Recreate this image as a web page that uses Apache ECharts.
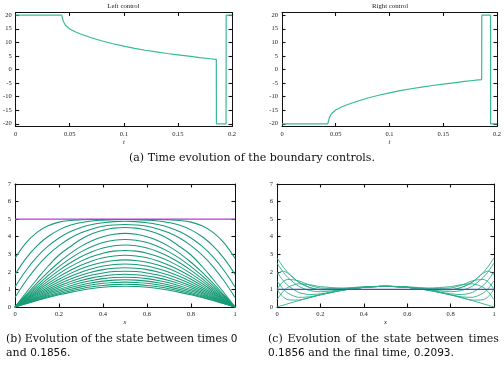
<!DOCTYPE html>
<html><head><meta charset="utf-8">
<script src="https://cdn.jsdelivr.net/npm/echarts@6/dist/echarts.min.js"></script>
<style>html,body{margin:0;padding:0;background:#fff}#c{width:504px;height:372px}</style>
</head><body><div id="c"></div>
<script>
// ---------- data: boundary controls ----------
const leftT  = [0, 0.0425, 0.044, 0.046, 0.05, 0.055, 0.06, 0.07, 0.08, 0.09, 0.1, 0.11, 0.12, 0.13, 0.14, 0.15, 0.16, 0.17, 0.18, 0.1855, 0.1856, 0.1945, 0.1946, 0.2];
const leftU  = [20, 20, 17.8, 16.3, 14.9, 13.9, 13.1, 11.7, 10.5, 9.5, 8.6, 7.8, 7.1, 6.5, 5.9, 5.4, 4.9, 4.4, 3.95, 3.7, -20, -20, 20, 20];
const rightT = [0, 0.0426, 0.044, 0.046, 0.05, 0.055, 0.06, 0.07, 0.08, 0.09, 0.1, 0.11, 0.12, 0.13, 0.14, 0.15, 0.16, 0.17, 0.18, 0.1858, 0.1859, 0.194, 0.1941, 0.2];
const rightU = [-20, -20, -17.8, -16.3, -14.9, -13.9, -13.1, -11.7, -10.5, -9.5, -8.6, -7.8, -7.1, -6.5, -5.9, -5.4, -4.9, -4.4, -3.95, -3.7, 20, 20, -20, -20];
const controlTicksY = [-20, -15, -10, -5, 0, 5, 10, 15, 20];

// ---------- data: state profiles, times 0 .. 0.1856 ----------
const xGridB = [0,0.05,0.1,0.15,0.2,0.25,0.3,0.35,0.4,0.45,0.5,0.55,0.6,0.65,0.7,0.75,0.8,0.85,0.9,0.95,1];
const stateInitial = [5,5,5,5,5,5,5,5,5,5,5,5,5,5,5,5,5,5,5,5,5];
const statesB = [
  [2.77,3.65,4.25,4.62,4.83,4.92,4.96,4.98,4.98,4.98,4.98,4.98,4.98,4.98,4.96,4.92,4.83,4.62,4.25,3.65,2.77],
  [1.85,2.77,3.48,4.01,4.39,4.65,4.80,4.89,4.94,4.97,4.98,4.97,4.94,4.89,4.80,4.65,4.39,4.01,3.48,2.77,1.85],
  [1.14,2.08,2.85,3.46,3.93,4.28,4.53,4.69,4.80,4.86,4.88,4.86,4.80,4.69,4.53,4.28,3.93,3.46,2.85,2.08,1.14],
  [0.54,1.49,2.30,2.96,3.49,3.91,4.22,4.44,4.60,4.67,4.69,4.67,4.60,4.44,4.22,3.91,3.49,2.96,2.30,1.49,0.54],
  [0,0.81,1.58,2.32,2.96,3.43,3.86,4.17,4.37,4.49,4.53,4.49,4.37,4.17,3.86,3.43,2.96,2.32,1.58,0.81,0],
  [0,0.689,1.356,1.981,2.547,3.040,3.451,3.773,4.004,4.143,4.189,4.143,4.004,3.773,3.451,3.040,2.547,1.981,1.356,0.689,0],
  [0,0.616,1.216,1.781,2.298,2.754,3.139,3.445,3.668,3.802,3.847,3.802,3.668,3.445,3.139,2.754,2.298,1.781,1.216,0.616,0],
  [0,0.558,1.101,1.616,2.088,2.508,2.863,3.148,3.356,3.482,3.524,3.482,3.356,3.148,2.863,2.508,2.088,1.616,1.101,0.558,0],
  [0,0.507,1.000,1.469,1.900,2.283,2.611,2.873,3.065,3.181,3.220,3.181,3.065,2.873,2.611,2.283,1.900,1.469,1.000,0.507,0],
  [0,0.460,0.909,1.336,1.729,2.080,2.380,2.621,2.798,2.906,2.940,2.906,2.798,2.621,2.380,2.080,1.729,1.336,0.909,0.460,0],
  [0,0.420,0.829,1.219,1.578,1.898,2.171,2.391,2.553,2.651,2.683,2.651,2.553,2.391,2.171,1.898,1.578,1.219,0.829,0.420,0],
  [0,0.383,0.757,1.112,1.440,1.732,1.981,2.182,2.329,2.419,2.449,2.419,2.329,2.182,1.981,1.732,1.440,1.112,0.757,0.383,0],
  [0,0.350,0.691,1.015,1.314,1.581,1.809,1.992,2.127,2.208,2.236,2.208,2.127,1.992,1.809,1.581,1.314,1.015,0.691,0.350,0],
  [0,0.319,0.630,0.926,1.199,1.442,1.650,1.818,1.940,2.015,2.040,2.015,1.940,1.818,1.650,1.442,1.199,0.926,0.630,0.319,0],
  [0,0.291,0.575,0.845,1.094,1.316,1.506,1.658,1.770,1.838,1.861,1.838,1.770,1.658,1.506,1.316,1.094,0.845,0.575,0.291,0],
  [0,0.266,0.525,0.771,0.998,1.201,1.374,1.513,1.615,1.677,1.698,1.677,1.615,1.513,1.374,1.201,0.998,0.771,0.525,0.266,0],
  [0,0.242,0.479,0.703,0.911,1.095,1.253,1.380,1.473,1.530,1.549,1.530,1.473,1.380,1.253,1.095,0.911,0.703,0.479,0.242,0],
  [0,0.221,0.437,0.642,0.832,1.001,1.145,1.261,1.346,1.398,1.415,1.398,1.346,1.261,1.145,1.001,0.832,0.642,0.437,0.221,0],
  [0,0.202,0.399,0.586,0.758,0.912,1.044,1.149,1.227,1.274,1.290,1.274,1.227,1.149,1.044,0.912,0.758,0.586,0.399,0.202,0],
  [0,0.184,0.364,0.534,0.692,0.832,0.952,1.049,1.119,1.163,1.177,1.163,1.119,1.049,0.952,0.832,0.692,0.534,0.364,0.184,0]
];

// ---------- data: state profiles, times 0.1856 .. 0.2093 ----------
const xGridC = [0, 0.025, 0.05, 0.1, 0.15, 0.2, 0.3, 0.4, 0.5, 0.6, 0.7, 0.8, 0.85, 0.9, 0.95, 0.975, 1];
const statesC = [
  [0,0.092,0.184,0.364,0.534,0.692,0.952,1.119,1.177,1.119,0.952,0.692,0.534,0.364,0.184,0.092,0],
  [1.0,0.61,0.415,0.393,0.534,0.692,0.952,1.119,1.177,1.119,0.952,0.692,0.534,0.393,0.415,0.61,1.0],
  [1.5,1.07,0.79,0.55,0.58,0.70,0.95,1.12,1.18,1.12,0.95,0.70,0.58,0.55,0.79,1.07,1.5],
  [2.0,1.56,1.22,0.83,0.71,0.75,0.96,1.12,1.18,1.12,0.96,0.75,0.71,0.83,1.22,1.56,2.0],
  [2.5,2.04,1.68,1.18,0.94,0.87,0.98,1.12,1.18,1.12,0.98,0.87,0.94,1.18,1.68,2.04,2.5],
  [2.8,2.34,1.96,1.41,1.11,0.98,1.00,1.12,1.18,1.12,1.00,0.98,1.11,1.41,1.96,2.34,2.8],
  [1.85,2.05,1.92,1.42,1.12,0.99,1.00,1.12,1.18,1.12,1.00,0.99,1.12,1.42,1.92,2.05,1.85],
  [1.03,1.41,1.57,1.49,1.24,1.08,1.05,1.13,1.18,1.13,1.05,1.08,1.24,1.49,1.57,1.41,1.03],
  [0.42,0.84,1.12,1.32,1.27,1.16,1.08,1.15,1.18,1.15,1.08,1.16,1.27,1.32,1.12,0.84,0.42]
];
const stateFinal = [1,1,1,1,1,1,1,1,1,1,1,1,1,1,1,1,1];

// ---------- styling ----------
const GREEN = '#179b77', GREEN2 = '#2aae88', TEAL = '#36bb98', MAGENTA = '#b23fd0', BLUE = '#4a4ec4';
const AX = '#111';
const tickFont = {fontFamily: 'Liberation Serif', fontSize: 6.5, color: '#222'};

const grids = [
  {left: 15, top: 12.5, width: 217, height: 114},
  {left: 282, top: 12.5, width: 216, height: 114},
  {left: 15, top: 184, width: 220, height: 123},
  {left: 277, top: 184, width: 217, height: 123}
];

const xAxes = [], yAxes = [];
function addAxes(gi, xCfg, yCfg, xName) {
  const tick = {show: true, inside: true, length: 3.5, lineStyle: {color: AX, width: 1.1}};
  const line = {show: true, onZero: false, lineStyle: {color: AX, width: 1}};
  xAxes.push(Object.assign({type: 'value', gridIndex: gi, position: 'bottom', axisLine: line, axisTick: tick,
    splitLine: {show: false}, axisLabel: Object.assign({margin: 4}, tickFont),
    name: xName, nameLocation: 'middle', nameGap: 11,
    nameTextStyle: {fontFamily: 'Liberation Serif', fontStyle: 'italic', fontSize: 6.5, color: '#222'}}, xCfg));
  xAxes.push(Object.assign({type: 'value', gridIndex: gi, position: 'top', axisLine: line, axisTick: tick,
    splitLine: {show: false}, axisLabel: {show: false}}, xCfg));
  const ticks = yCfg.ticks;
  const yc = Object.assign({}, yCfg); delete yc.ticks;
  const yl = Object.assign({type: 'value', gridIndex: gi, position: 'left', axisLine: line, axisTick: tick,
    splitLine: {show: false}, axisLabel: Object.assign({margin: 4}, tickFont)}, yc);
  const yr = Object.assign({type: 'value', gridIndex: gi, position: 'right', axisLine: line, axisTick: tick,
    splitLine: {show: false}, axisLabel: {show: false}}, yc);
  if (ticks) {
    yl.axisLabel.customValues = ticks;
    yl.axisTick = Object.assign({customValues: ticks}, tick);
    yr.axisTick = Object.assign({customValues: ticks}, tick);
  }
  yAxes.push(yl, yr);
}
addAxes(0, {min: 0, max: 0.2, interval: 0.05}, {min: -21, max: 21, ticks: controlTicksY}, 't');
addAxes(1, {min: 0, max: 0.2, interval: 0.05}, {min: -21, max: 21, ticks: controlTicksY}, 't');
addAxes(2, {min: 0, max: 1, interval: 0.2}, {min: 0, max: 7, interval: 1}, 'x');
addAxes(3, {min: 0, max: 1, interval: 0.2}, {min: 0, max: 7, interval: 1}, 'x');

const series = [];
function pairs(xs, ys) { return xs.map((x, i) => [x, ys[i]]); }
function addLine(gi, data, color, width, smooth) {
  series.push({type: 'line', xAxisIndex: 2 * gi, yAxisIndex: 2 * gi, data: data, showSymbol: false,
    smooth: smooth, clip: true, silent: true, lineStyle: {color: color, width: width}});
}
addLine(0, pairs(leftT, leftU), TEAL, 1.2, false);
addLine(1, pairs(rightT, rightU), TEAL, 1.2, false);
addLine(2, pairs(xGridB, stateInitial), MAGENTA, 1.1, false);
statesB.forEach(s => addLine(2, pairs(xGridB, s), GREEN, 1.05, 0.4));
statesC.forEach(s => addLine(3, pairs(xGridC, s), GREEN2, 0.9, 0.25));
addLine(3, pairs(xGridC, stateFinal), BLUE, 1.3, false);

// ---------- captions (justified lines are laid out word by word) ----------
const CAP = '11px "DejaVu Serif"', NUM = '10.5px "DejaVu Sans"';
const mctx = document.createElement('canvas').getContext('2d');
function measure(t, f) { mctx.font = f; return mctx.measureText(t).width; }
const graphic = [
  {type: 'text', x: 123.5, y: 6, style: {text: 'Left control', font: '6.8px "Liberation Serif"', fill: '#222', align: 'center', verticalAlign: 'middle'}},
  {type: 'text', x: 390, y: 6, style: {text: 'Right control', font: '6.8px "Liberation Serif"', fill: '#222', align: 'center', verticalAlign: 'middle'}},
  {type: 'text', x: 252, y: 158.5, style: {text: '(a) Time evolution of the boundary controls.', font: CAP, fill: '#111', align: 'center', verticalAlign: 'middle'}}
];
function lineOf(words, x0, x1, y) {
  const ws = words.map(w => measure(w[0], w[1]));
  const total = ws.reduce((a, b) => a + b, 0);
  const gap = x1 == null ? measure(' ', CAP) : (x1 - x0 - total) / (words.length - 1);
  let x = x0;
  words.forEach((w, i) => {
    graphic.push({type: 'text', x: x, y: y, style: {text: w[0], font: w[1], fill: '#111', verticalAlign: 'middle'}});
    x += ws[i] + gap;
  });
}
function W(s) { return s.split(' ').map(t => [t, CAP]); }
lineOf(W('(b) Evolution of the state between times').concat([['0', NUM]]), 6, 237.5, 339.5);
lineOf([['and', CAP], ['0.1856', NUM]], 6, null, 353.5);
graphic.push({type: 'text', x: 6 + measure('and ', CAP) + measure('0.1856', NUM), y: 353.5, style: {text: '.', font: CAP, fill: '#111', verticalAlign: 'middle'}});
lineOf(W('(c) Evolution of the state between times'), 268, 499, 339.5);
(function () {
  let x = 268;
  const parts = [['0.1856', NUM], [' and the final time, ', CAP], ['0.2093', NUM], ['.', CAP]];
  parts.forEach(p => {
    graphic.push({type: 'text', x: x, y: 353.5, style: {text: p[0], font: p[1], fill: '#111', verticalAlign: 'middle'}});
    x += measure(p[0], p[1]);
  });
})();

const chart = echarts.init(document.getElementById('c'), null, {renderer: 'canvas'});
chart.setOption({
  animation: false,
  backgroundColor: '#fff',
  grid: grids,
  xAxis: xAxes,
  yAxis: yAxes,
  series: series,
  graphic: graphic
});
</script></body></html>
